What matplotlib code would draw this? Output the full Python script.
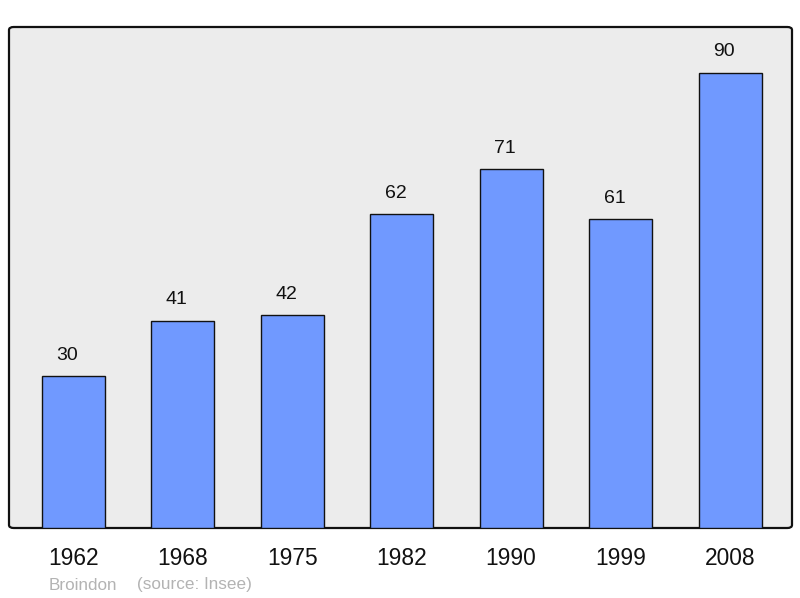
import matplotlib
matplotlib.use("Agg")
import matplotlib.pyplot as plt
from matplotlib.patches import FancyBboxPatch

years = ["1962", "1968", "1975", "1982", "1990", "1999", "2008"]
population = [30, 41, 42, 62, 71, 61, 90]
place = "Broindon"
source = "(source: Insee)"

plt.rcParams['font.family'] = ['Liberation Sans', 'DejaVu Sans']

fig = plt.figure(figsize=(8, 5.98), dpi=100)
ax = fig.add_axes([9/800, 70/598, 783/800, 501/598])
ax.set_facecolor('none')

bg = FancyBboxPatch((0, 0), 1, 1, boxstyle="round,pad=0,rounding_size=0.006",
                    transform=ax.transAxes, facecolor='#ececec', edgecolor='#111111',
                    linewidth=1.6, zorder=0, clip_on=False)
ax.add_patch(bg)

x = list(range(len(years)))
bars = ax.bar(x, population, width=0.575, color='#7099ff', edgecolor='#111111',
              linewidth=1.0, zorder=2)
for xi, v in zip(x, population):
    ax.annotate(str(v), (xi, v), xytext=(-4.3, 14.8), textcoords='offset points',
                ha='center', va='center', fontsize=14, color='#111111')

ax.set_xlim(-0.585, 6.565)
ax.set_ylim(0, 99)
ax.set_xticks(x)
ax.set_xticklabels(years, fontsize=16.4, color='#111111')
ax.tick_params(axis='x', length=0, pad=14)
ax.set_yticks([])
for s in ax.spines.values():
    s.set_visible(False)

fig.text(49/800, 1 - 585/598, place, fontsize=12.3, color='#b3b3b3', va='center', ha='left')
fig.text(137/800, 1 - 585/598, source, fontsize=12.3, color='#b3b3b3', va='center', ha='left')

fig.savefig("out.png", dpi=100)
